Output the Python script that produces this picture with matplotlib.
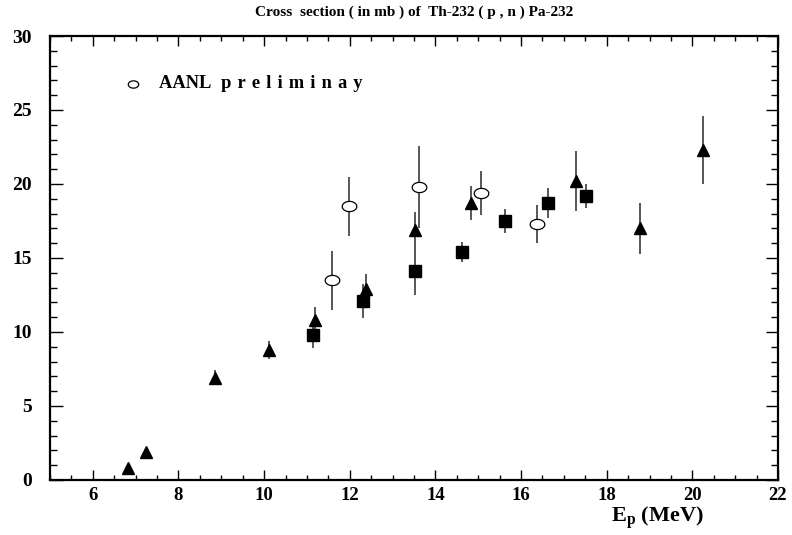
import numpy as np
import matplotlib
matplotlib.use("Agg")
import matplotlib.pyplot as plt
from matplotlib.path import Path
from matplotlib.ticker import MultipleLocator

# ---- data ----
tri_x = [6.81, 7.24, 8.85, 10.11, 11.19, 12.39, 13.52, 14.82, 17.28, 18.78, 20.26]
tri_y = [0.82, 1.88, 6.9, 8.8, 10.8, 12.9, 16.9, 18.7, 20.2, 17.0, 22.3]
tri_e = [0.2, 0.2, 0.5, 0.6, 0.9, 1.0, 1.2, 1.15, 2.0, 1.7, 2.3]

sq_x = [11.13, 12.32, 13.52, 14.61, 15.63, 16.63, 17.52]
sq_y = [9.8, 12.1, 14.1, 15.4, 17.5, 18.7, 19.2]
sq_e = [0.9, 1.15, 1.6, 0.67, 0.78, 1.0, 0.8]

circ_x = [11.58, 11.99, 13.61, 15.06, 16.38]
circ_y = [13.5, 18.5, 19.8, 19.4, 17.3]
circ_e = [2.0, 2.0, 2.8, 1.5, 1.3]

title = "Cross  section ( in mb ) of  Th-232 ( p , n ) Pa-232"
sp = "\u2004"
legend_label = "AANL " + sp + sp.join("preliminay")
xlabel = r"$\mathbf{E_p}$ (MeV)"

xlim = (5, 22)
ylim = (0, 30)

plt.rcParams['font.family'] = ['Liberation Serif', 'DejaVu Serif']
plt.rcParams['font.weight'] = 'bold'
plt.rcParams['mathtext.fontset'] = 'custom'
plt.rcParams['mathtext.bf'] = 'Liberation Serif:bold'
plt.rcParams['mathtext.rm'] = 'Liberation Serif:bold'

W, H = 792, 535
fig = plt.figure(figsize=(W / 100, H / 100), dpi=100)
top_px = 36
ax = fig.add_axes([50 / W, 1 - 480 / H, 728 / W, (480 - top_px) / H])

# ellipse marker (the open markers appear slightly flattened)
t = np.linspace(0, 2 * np.pi, 73)
ell = Path(np.column_stack([np.cos(t), 0.7 * np.sin(t)]), closed=True)

ecol = '#2a2a2a'
ax.errorbar(tri_x, tri_y, yerr=tri_e, fmt='none', ecolor=ecol, elinewidth=1.1, capsize=0, zorder=2)
ax.errorbar(sq_x, sq_y, yerr=sq_e, fmt='none', ecolor=ecol, elinewidth=1.1, capsize=0, zorder=2)
ax.errorbar(circ_x, circ_y, yerr=circ_e, fmt='none', ecolor=ecol, elinewidth=1.1, capsize=0, zorder=2)

ax.plot(tri_x, tri_y, linestyle='none', marker='^', markersize=9.3, color='black', zorder=3)
ax.plot(sq_x, sq_y, linestyle='none', marker='s', markersize=8.6, color='black', zorder=3)
ax.plot(circ_x, circ_y, linestyle='none', marker=ell, markersize=10.5,
        markerfacecolor='white', markeredgecolor='black', markeredgewidth=0.9, zorder=4)

# legend entry
ax.plot([0.114], [0.893], transform=ax.transAxes, linestyle='none', marker=ell, markersize=7.5,
        markerfacecolor='white', markeredgecolor='black', markeredgewidth=0.9, clip_on=False)
ax.text(0.150, 0.893, legend_label, transform=ax.transAxes, ha='left', va='center',
        fontsize=13.3, fontweight='bold')

ax.set_xlim(*xlim)
ax.set_ylim(*ylim)
ax.xaxis.set_major_locator(MultipleLocator(2))
ax.xaxis.set_minor_locator(MultipleLocator(0.5))
ax.yaxis.set_major_locator(MultipleLocator(5))
ax.yaxis.set_minor_locator(MultipleLocator(1))

ax.tick_params(which='both', direction='in', top=True, right=True, width=1.0, colors='black')
ax.tick_params(axis='x', which='major', length=7, pad=5, labelsize=13.5)
ax.tick_params(axis='x', which='minor', length=3.6)
ax.tick_params(axis='y', which='major', length=9, pad=13, labelsize=14)
ax.tick_params(axis='y', which='minor', length=5)
for lab in ax.get_xticklabels() + ax.get_yticklabels():
    lab.set_fontweight('bold')

for s in ax.spines.values():
    s.set_linewidth(1.6)

fig.text(414 / W, 1 - 12 / H, title, ha='center', va='center', fontsize=11, fontweight='bold')
fig.text(657 / W, 1 - 518 / H, xlabel, ha='center', va='center', fontsize=16, fontweight='bold')

fig.savefig('out.png', dpi=100, facecolor='white')
